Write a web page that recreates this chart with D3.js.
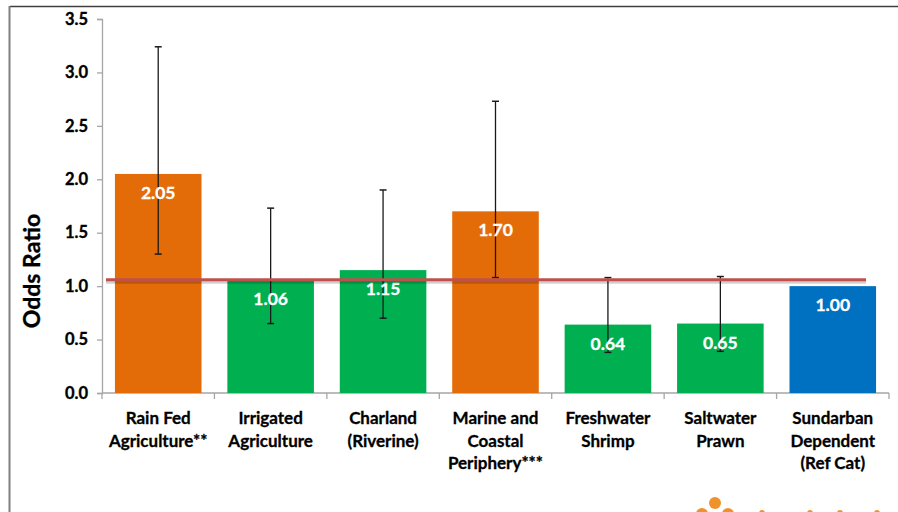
<!DOCTYPE html>
<html>
<head>
<meta charset="utf-8">
<script src="https://cdn.jsdelivr.net/npm/d3@7"></script>
<style>
  html, body { margin: 0; padding: 0; background: #fff; }
  svg { display: block; font-family: Lato, "Open Sans", "Liberation Sans", sans-serif; }
</style>
</head>
<body>
<svg id="chart" width="898" height="512"></svg>
<script>
// ---- data ----
const categories = [
  ["Rain Fed", "Agriculture**"],
  ["Irrigated", "Agriculture"],
  ["Charland", "(Riverine)"],
  ["Marine and", "Coastal", "Periphery***"],
  ["Freshwater", "Shrimp"],
  ["Saltwater", "Prawn"],
  ["Sundarban", "Dependent", "(Ref Cat)"]
];
const oddsRatio = [2.05, 1.06, 1.15, 1.70, 0.64, 0.65, 1.00];
const ciLower   = [1.30, 0.65, 0.70, 1.08, 0.38, 0.39, null];
const ciUpper   = [3.24, 1.73, 1.90, 2.73, 1.08, 1.09, null];
const groupColor = ["#E36C09", "#00B050", "#00B050", "#E36C09", "#00B050", "#00B050", "#0070C0"];
const yTicks = [0, 0.5, 1.0, 1.5, 2.0, 2.5, 3.0, 3.5];
const referenceLine = 1.06;
const yTitle = "Odds Ratio";

// ---- layout ----
const svg = d3.select("#chart");
const plot = { left: 102, right: 889, top: 19, bottom: 393 };
const keys = categories.map((c, i) => "c" + i);

const x = d3.scaleBand().domain(keys).range([plot.left, plot.right])
  .paddingInner(0.23).paddingOuter(0.115);
const y = d3.scaleLinear().domain([0, 3.5]).range([plot.bottom, plot.top]);

// frame
svg.append("line").attr("x1", 10).attr("x2", 898).attr("y1", 6.5).attr("y2", 6.5)
  .attr("stroke", "#404040").attr("stroke-width", 1.5);
svg.append("line").attr("x1", 9.5).attr("x2", 9.5).attr("y1", 6).attr("y2", 512)
  .attr("stroke", "#7f7f7f").attr("stroke-width", 2);

// y axis
const yAxis = d3.axisLeft(y).tickValues(yTicks).tickFormat(d3.format(".1f")).tickSize(5).tickPadding(9);
const gy = svg.append("g").attr("transform", `translate(${plot.left},0)`).call(yAxis);
gy.select(".domain").attr("stroke", "#A6A6A6").attr("stroke-width", 1.3);
gy.selectAll(".tick line").attr("stroke", "#A6A6A6").attr("stroke-width", 1.3);
gy.selectAll(".tick text").attr("font-size", 16.5).attr("font-weight", "bold").attr("fill", "#000")
  .attr("stroke", "#000").attr("stroke-width", 0.35)
  .attr("font-family", "Lato, sans-serif");

// x axis line + boundary ticks
svg.append("line").attr("x1", plot.left).attr("x2", plot.right)
  .attr("y1", plot.bottom).attr("y2", plot.bottom)
  .attr("stroke", "#A6A6A6").attr("stroke-width", 1.3);
const step = x.step();
const boundaries = d3.range(keys.length + 1).map(i => x(keys[0]) - x.paddingOuter() * step + i * step);
svg.append("g").selectAll("line").data(boundaries).join("line")
  .attr("x1", d => d).attr("x2", d => d)
  .attr("y1", plot.bottom).attr("y2", plot.bottom + 6)
  .attr("stroke", "#A6A6A6").attr("stroke-width", 1.3);

// bars
svg.append("g").selectAll("rect").data(oddsRatio).join("rect")
  .attr("x", (d, i) => x(keys[i]))
  .attr("width", x.bandwidth())
  .attr("y", d => y(d))
  .attr("height", d => y(0) - y(d))
  .attr("fill", (d, i) => groupColor[i]);

// error bars
const eb = svg.append("g");
oddsRatio.forEach((d, i) => {
  if (ciLower[i] == null) return;
  const cx = x(keys[i]) + x.bandwidth() / 2;
  eb.append("line").attr("x1", cx).attr("x2", cx)
    .attr("y1", y(ciLower[i])).attr("y2", y(ciUpper[i]))
    .attr("stroke", "#1a1a1a").attr("stroke-width", 1.3);
  [ciLower[i], ciUpper[i]].forEach(v => {
    eb.append("line").attr("x1", cx - 3.5).attr("x2", cx + 3.5)
      .attr("y1", y(v)).attr("y2", y(v))
      .attr("stroke", "#1a1a1a").attr("stroke-width", 1.5);
  });
});

// value labels
svg.append("g").selectAll("text").data(oddsRatio).join("text")
  .attr("x", (d, i) => x(keys[i]) + x.bandwidth() / 2)
  .attr("y", d => y(d) + 25)
  .attr("text-anchor", "middle")
  .attr("font-size", 17.5).attr("font-weight", "bold").attr("fill", "#fff")
  .attr("stroke", "#fff").attr("stroke-width", 0.3)
  .text(d => d.toFixed(2));

// reference red line with shadow
svg.append("line").attr("x1", 106).attr("x2", 866)
  .attr("y1", y(referenceLine) + 2.5).attr("y2", y(referenceLine) + 2.5)
  .attr("stroke", "#000").attr("stroke-opacity", 0.18).attr("stroke-width", 3);
svg.append("line").attr("x1", 106).attr("x2", 866)
  .attr("y1", y(referenceLine)).attr("y2", y(referenceLine))
  .attr("stroke", "#C0504D").attr("stroke-width", 3);

// category labels
const lab = svg.append("g");
categories.forEach((lines, i) => {
  const cx = x(keys[i]) + x.bandwidth() / 2;
  const t = lab.append("text").attr("text-anchor", "middle")
    .attr("font-size", 17).attr("font-weight", "bold").attr("fill", "#000")
    .attr("stroke", "#000").attr("stroke-width", 0.3);
  lines.forEach((l, j) => {
    t.append("tspan").attr("x", cx).attr("y", 424 + j * 22.7).text(l);
  });
});

// y title
svg.append("text")
  .attr("transform", `translate(40,${(plot.top + plot.bottom) / 2 + 65}) rotate(-90)`)
  .attr("text-anchor", "middle")
  .attr("font-size", 23).attr("font-weight", "bold").attr("fill", "#000")
  .attr("stroke", "#000").attr("stroke-width", 0.35)
  .text(yTitle);

// partial logo at bottom right
const logo = svg.append("g").attr("fill", "#F0922B");
logo.append("circle").attr("cx", 715).attr("cy", 503).attr("r", 6);
logo.append("circle").attr("cx", 702).attr("cy", 514).attr("r", 6);
logo.append("circle").attr("cx", 728).attr("cy", 514).attr("r", 6);
[762, 810, 840, 877].forEach(cx => logo.append("circle").attr("cx", cx).attr("cy", 513).attr("r", 3));
</script>
</body>
</html>
